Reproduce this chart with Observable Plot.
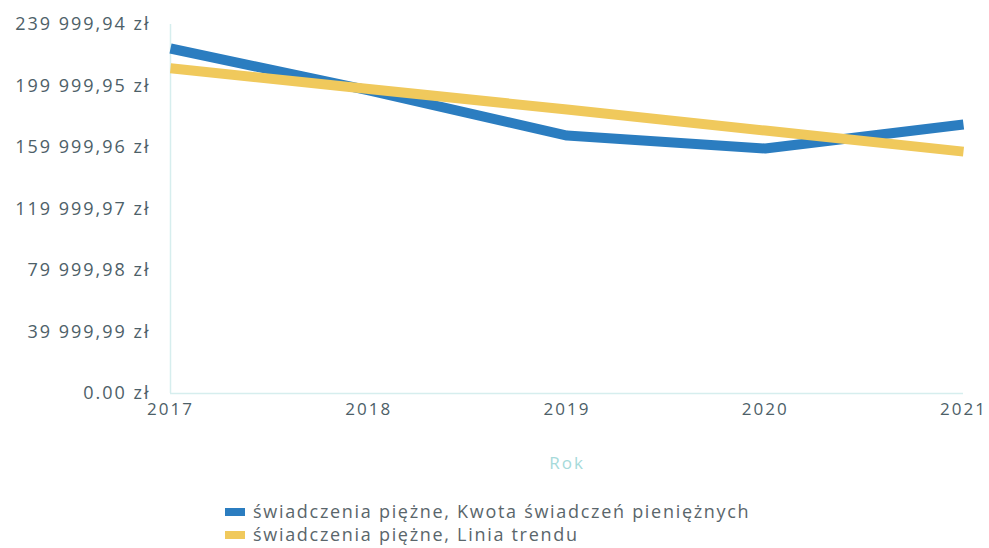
<!DOCTYPE html>
<html>
<head>
<meta charset="utf-8">
<script src="https://cdn.jsdelivr.net/npm/d3@7"></script>
<script src="https://cdn.jsdelivr.net/npm/@observablehq/plot@0.6"></script>
<style>
  body { margin: 0; background: #fff; font-family: "Open Sans", sans-serif; }
  #legend { position: absolute; left: 225px; top: 500px; font-size: 18px; letter-spacing: 1.7px; color: #5a666b; line-height: 23px; }
  .row { display: flex; align-items: center; }
  .sw { width: 20px; height: 8px; margin-right: 8px; }
</style>
</head>
<body>
<div id="chart"></div>
<div id="legend"></div>
<script>
const years = [2017, 2018, 2019, 2020, 2021];
const kwota = [224400, 197100, 167800, 159300, 175000];
const trend = [211500, 198000, 184700, 171000, 157300];
const yTicks = [0, 39999.99, 79999.98, 119999.97, 159999.96, 199999.95, 239999.94];
const yTickLabels = ["0.00 zł", "39 999,99 zł", "79 999,98 zł", "119 999,97 zł", "159 999,96 zł", "199 999,95 zł", "239 999,94 zł"];
const seriesNames = ["świadczenia piężne, Kwota świadczeń pieniężnych", "świadczenia piężne, Linia trendu"];
const colors = ["#2b7dc0", "#f0c95c"];

const data = [];
years.forEach((y, i) => {
  data.push({year: y, value: kwota[i], series: seriesNames[0]});
  data.push({year: y, value: trend[i], series: seriesNames[1]});
});

const chart = Plot.plot({
  width: 989,
  height: 480,
  marginLeft: 170,
  marginRight: 26,
  marginTop: 24,
  marginBottom: 87,
  style: {fontFamily: "Open Sans, sans-serif", fontSize: "17px", letterSpacing: "2px", color: "#4d6068", background: "#fff"},
  x: {domain: [2017, 2021]},
  y: {domain: [0, 239999.94]},
  color: {domain: seriesNames, range: colors},
  marks: [
    Plot.ruleX([2017], {stroke: "#d6eeee", strokeWidth: 1.5}),
    Plot.ruleY([0], {stroke: "#d6eeee", strokeWidth: 1.5}),
    Plot.axisY({ticks: yTicks, tickFormat: (d) => yTickLabels[yTicks.indexOf(d)], tickSize: 0, tickPadding: 20, label: null, fontSize: 18}),
    Plot.axisX({ticks: years, tickFormat: (d) => String(d), tickSize: 0, tickPadding: 9, label: "Rok", labelAnchor: "center", labelOffset: 75, labelArrow: "none", fontSize: 17}),
    Plot.line(data, {x: "year", y: "value", stroke: "series", strokeWidth: 10, curve: "linear", strokeLinejoin: "round", strokeLinecap: "butt"})
  ]
});
document.getElementById("chart").appendChild(chart);
chart.querySelectorAll("g[aria-label='x-axis label'] text").forEach(t => t.setAttribute("fill", "#a6dada"));

const legend = document.getElementById("legend");
seriesNames.forEach((name, i) => {
  const row = document.createElement("div");
  row.className = "row";
  const sw = document.createElement("div");
  sw.className = "sw";
  sw.style.background = colors[i];
  const tx = document.createElement("span");
  tx.textContent = name;
  row.appendChild(sw);
  row.appendChild(tx);
  legend.appendChild(row);
});
</script>
</body>
</html>
